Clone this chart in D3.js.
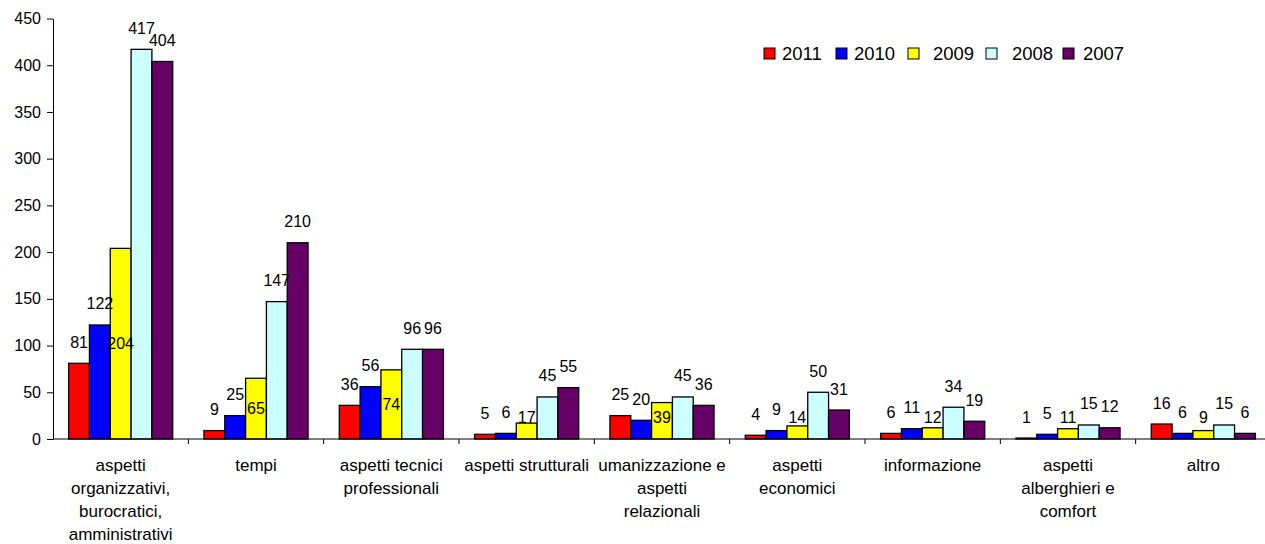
<!DOCTYPE html>
<html><head><meta charset="utf-8">
<script src="https://cdn.jsdelivr.net/npm/d3@7"></script>
<style>
body{margin:0;background:#fff;}
svg{display:block;font-family:"Liberation Sans",Arial,sans-serif;}
</style></head>
<body><svg id="c" width="1265" height="544"></svg>
<script>
const categories = ["aspetti|organizzativi,|burocratici,|amministrativi","tempi","aspetti tecnici|professionali","aspetti strutturali","umanizzazione e|aspetti|relazionali","aspetti|economici","informazione","aspetti|alberghieri e|comfort","altro"];
const years = ["2011","2010","2009","2008","2007"];
const v2011 = [81,9,36,5,25,4,6,1,16];
const v2010 = [122,25,56,6,20,9,11,5,6];
const v2009 = [204,65,74,17,39,14,12,11,9];
const v2008 = [417,147,96,45,45,50,34,15,15];
const v2007 = [404,210,96,55,36,31,19,12,6];
const yTicks = [0,50,100,150,200,250,300,350,400,450];
const colors = ["#FF0000","#0000FF","#FFFF00","#CCFFFF","#660066"];

const series = [v2011,v2010,v2009,v2008,v2007];
const svg = d3.select("#c");
const y = d3.scaleLinear().domain([0,450]).range([439,18.5]);
const x0 = d3.scaleBand().domain(d3.range(categories.length)).range([53,1271]).padding(0);
const x1 = d3.scaleBand().domain(years).range([0,x0.bandwidth()]).paddingInner(0).paddingOuter(0.75);

// y axis
const yAxis = svg.append("g").attr("transform","translate(53,0)")
  .call(d3.axisLeft(y).tickValues(yTicks).tickSize(6).tickPadding(6).tickSizeOuter(0));
yAxis.select(".domain").attr("stroke","#000");
yAxis.selectAll("text").attr("font-size",16).attr("fill","#000").attr("font-family","'Liberation Sans',Arial,sans-serif");

// bars
categories.forEach((c,i)=>{
  const g = svg.append("g").attr("transform",`translate(${x0(i)},0)`);
  years.forEach((yr,k)=>{
    const v = series[k][i];
    g.append("rect").attr("x",x1(yr)).attr("y",y(v)).attr("width",x1.bandwidth()).attr("height",y(0)-y(v))
      .attr("fill",colors[k]).attr("stroke","#000").attr("stroke-width",1.3);
  });
});

// x axis
const xAxisG = svg.append("g").attr("transform","translate(0,439)");
xAxisG.append("line").attr("x1",53).attr("x2",1265).attr("y1",0).attr("y2",0).attr("stroke","#000");
d3.range(1,categories.length).forEach(i=>{
  xAxisG.append("line").attr("x1",x0(i)).attr("x2",x0(i)).attr("y1",0).attr("y2",5).attr("stroke","#000");
});
categories.forEach((c,i)=>{
  const lines = c.split("|");
  const t = svg.append("text").attr("text-anchor","middle").attr("font-size",17).attr("fill","#000");
  lines.forEach((ln,j)=>{
    t.append("tspan").attr("x",x0(i)+x0.bandwidth()/2).attr("y",471+j*23.1).text(ln);
  });
});

// data labels
categories.forEach((c,i)=>{
  years.forEach((yr,k)=>{
    const v = series[k][i];
    const cx = x0(i)+x1(yr)+x1.bandwidth()/2;
    let cy = (k===2) ? y(Math.max(v/2,22.5)) : y(v)-21;
    svg.append("text").attr("x",cx).attr("y",cy+5.5).attr("text-anchor","middle")
      .attr("font-size",16).attr("fill","#000").text(v);
  });
});

// legend
const legX = [764,836,908,986,1063];
const legTextX = [782,854,933,1012,1083];
years.forEach((yr,k)=>{
  svg.append("rect").attr("x",legX[k]).attr("y",48).attr("width",11).attr("height",11)
    .attr("fill",colors[k]).attr("stroke","#000").attr("stroke-width",1);
  svg.append("text").attr("x",legTextX[k]).attr("y",59.5).attr("font-size",18.5).attr("fill","#000").text(yr);
});
</script></body></html>
